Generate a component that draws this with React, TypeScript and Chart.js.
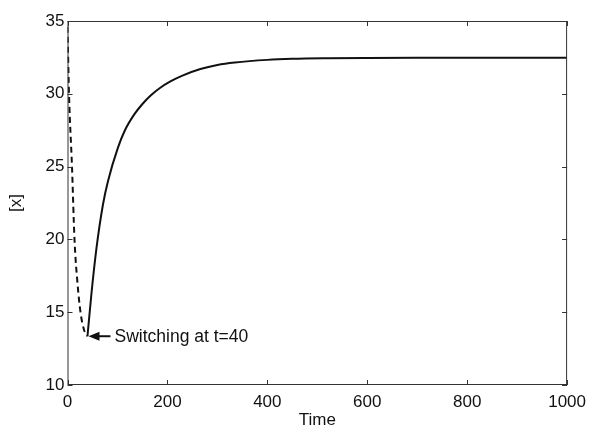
import React, { useEffect, useRef } from "react";
import { Chart, registerables } from "chart.js";

Chart.register(...registerables);

// Before switching (dashed)
const dashedTime = [0, 3, 9, 14, 20, 26, 33, 40];
const dashedX = [34.6, 30, 25, 20, 17, 15, 13.8, 13.35];

// After switching (solid)
const solidTime = [40, 48, 58, 71, 81, 101, 115, 134, 150, 167, 185, 206, 230, 266, 300, 335, 400, 450, 520, 600, 700, 800, 900, 1000];
const solidX = [13.35, 16.3, 19.4, 22.4, 24.0, 26.3, 27.5, 28.6, 29.3, 29.9, 30.4, 30.85, 31.25, 31.7, 31.98, 32.15, 32.33, 32.4, 32.44, 32.46, 32.47, 32.47, 32.47, 32.47];

const xTicks = [0, 200, 400, 600, 800, 1000];
const yTicks = [10, 15, 20, 25, 30, 35];

const switchTime = 40;
const switchValue = 13.35;
const switchLabel = "Switching at t=40";

const FONT = "'Liberation Sans', Arial, Helvetica, sans-serif";

const framePlugin = {
  id: "matlabFrame",
  afterDatasetsDraw(chart: any) {
    const { ctx, chartArea, scales } = chart;
    const { left, right, top, bottom } = chartArea;
    ctx.save();
    ctx.strokeStyle = "#333";
    ctx.lineWidth = 1;
    ctx.strokeRect(left + 0.5, top + 0.5, right - left - 1, bottom - top - 1);
    const tl = 5;
    ctx.beginPath();
    for (const v of xTicks) {
      const px = Math.round(scales.x.getPixelForValue(v)) + 0.5;
      ctx.moveTo(px, bottom);
      ctx.lineTo(px, bottom - tl);
      ctx.moveTo(px, top);
      ctx.lineTo(px, top + tl);
    }
    for (const v of yTicks) {
      const py = Math.round(scales.y.getPixelForValue(v)) + 0.5;
      ctx.moveTo(left, py);
      ctx.lineTo(left + tl, py);
      ctx.moveTo(right, py);
      ctx.lineTo(right - tl, py);
    }
    ctx.stroke();

    // annotation arrow + text
    const px = scales.x.getPixelForValue(switchTime);
    const py = scales.y.getPixelForValue(switchValue);
    ctx.strokeStyle = "#111";
    ctx.fillStyle = "#111";
    ctx.lineWidth = 2;
    ctx.beginPath();
    ctx.moveTo(px + 8, py);
    ctx.lineTo(px + 23, py);
    ctx.stroke();
    ctx.beginPath();
    ctx.moveTo(px + 1, py);
    ctx.lineTo(px + 12, py - 4.5);
    ctx.lineTo(px + 12, py + 4.5);
    ctx.closePath();
    ctx.fill();
    ctx.font = `17.5px ${FONT}`;
    ctx.textAlign = "left";
    ctx.textBaseline = "middle";
    ctx.fillText(switchLabel, px + 27, py + 1);
    ctx.restore();
  },
};

export default function App() {
  const ref = useRef<HTMLCanvasElement | null>(null);
  useEffect(() => {
    if (!ref.current) return;
    Chart.defaults.font.family = FONT;
    const chart = new Chart(ref.current, {
      type: "line",
      data: {
        datasets: [
          {
            data: dashedTime.map((t, i) => ({ x: t, y: dashedX[i] })),
            borderColor: "#111",
            borderWidth: 2,
            borderDash: [6, 4],
            pointRadius: 0,
            cubicInterpolationMode: "monotone",
          },
          {
            data: solidTime.map((t, i) => ({ x: t, y: solidX[i] })),
            borderColor: "#111",
            borderWidth: 2,
            pointRadius: 0,
            cubicInterpolationMode: "monotone",
          },
        ],
      },
      options: {
        responsive: false,
        animation: false,
        layout: { padding: { left: 0, top: 21, right: 20.5, bottom: 0 } },
        plugins: { legend: { display: false }, tooltip: { enabled: false } },
        scales: {
          x: {
            type: "linear",
            min: 0,
            max: 1000,
            afterBuildTicks: (s: any) => {
              s.ticks = xTicks.map((v) => ({ value: v }));
            },
            afterFit: (s: any) => {
              s.height = 43;
            },
            grid: { display: false, drawTicks: false },
            border: { display: false },
            ticks: { color: "#111", font: { size: 17 }, padding: 7, maxRotation: 0, callback: (v: any) => String(v) },
            title: { display: true, text: "Time", color: "#111", font: { size: 17 }, padding: { top: 0, bottom: -3 } },
          },
          y: {
            type: "linear",
            min: 10,
            max: 35,
            afterBuildTicks: (s: any) => {
              s.ticks = yTicks.map((v) => ({ value: v }));
            },
            afterFit: (s: any) => {
              s.width = 67.5;
            },
            grid: { display: false, drawTicks: false },
            border: { display: false },
            ticks: { color: "#111", font: { size: 17 }, padding: 3, callback: (v: any) => String(v) },
            title: { display: true, text: "[x]", color: "#111", font: { size: 17 }, padding: { top: 6, bottom: 0 } },
          },
        },
      },
      plugins: [framePlugin],
    } as any);
    return () => chart.destroy();
  }, []);
  return (
    <div style={{ position: "fixed", left: 0, top: 0, width: 593, height: 428, background: "#fff" }}>
      <canvas ref={ref} width={593} height={428} style={{ display: "block" }} />
    </div>
  );
}
